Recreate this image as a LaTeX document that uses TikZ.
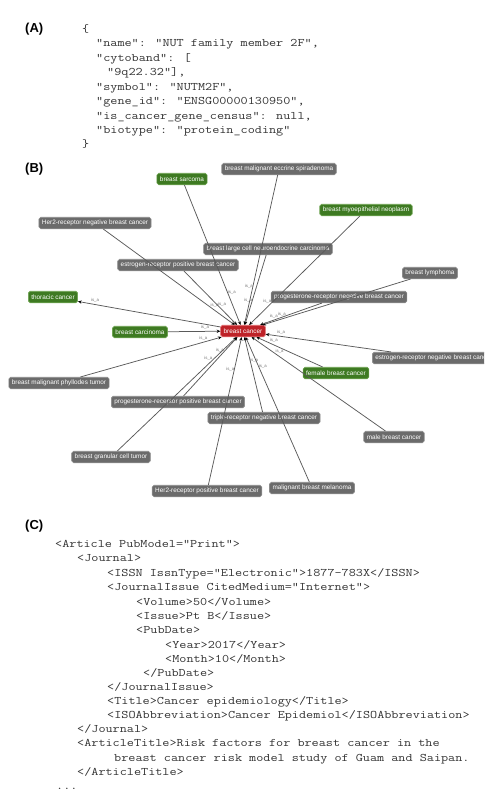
\documentclass[tikz,border=0pt]{standalone}
\usepackage{fontspec}
\newfontfamily\gsans{Liberation Sans}
\usetikzlibrary{arrows.meta,calc}
\definecolor{ngray}{HTML}{6B6B6B}
\definecolor{ngrayb}{HTML}{8C8C8C}
\definecolor{ngreen}{HTML}{3E7A22}
\definecolor{ngreenb}{HTML}{6FA552}
\definecolor{nred}{HTML}{BE2228}
\definecolor{nredb}{HTML}{E0666A}
\definecolor{codegray}{HTML}{333333}
\definecolor{edgegray}{HTML}{5A5A5A}
\newcommand\cl[1]{\scalebox{1.2}[1]{\fontsize{11.5}{13}\selectfont\ttfamily #1}}
\tikzset{
  code/.style={anchor=base west, inner sep=0pt, text=codegray},
  panel/.style={anchor=base west, inner sep=0pt, font=\gsans\fontsize{13}{15}\selectfont\bfseries},
  gnode/.style={rounded corners=1.8pt, minimum height=11.5pt, inner xsep=3pt, inner ysep=1pt,
    font=\gsans\fontsize{6.4}{7}\selectfont, text=white, line width=0.6pt},
  graynode/.style={gnode, fill=ngray, draw=ngrayb},
  greennode/.style={gnode, fill=ngreen, draw=ngreenb},
  rednode/.style={gnode, fill=nred, draw=nredb},
  edge/.style={draw=edgegray, line width=0.75pt, -{Stealth[length=3.6pt,width=3.2pt,black]}},
  elabel/.style={inner sep=0pt, font=\gsans\fontsize{4.3}{5}\selectfont, text=black!55}
}
\begin{document}
\begin{tikzpicture}[x=1pt,y=-1pt]
\useasboundingbox (0,0) rectangle (501,800);
% ---------- Panel A ----------
\node[panel] (lA) at (25,33) {(A)};
\node[code] (a1) at (82,32.5) {\cl{\{}};
\node[code] (a2) at (96,47) {\cl{"name": "NUT family member 2F",}};
\node[code] (a3) at (96,61.4) {\cl{"cytoband": [}};
\node[code] (a4) at (107,75.8) {\cl{"9q22.32"],}};
\node[code] (a5) at (96,90.2) {\cl{"symbol": "NUTM2F",}};
\node[code] (a6) at (96,104.6) {\cl{"gene\_id": "ENSG00000130950",}};
\node[code] (a7) at (96,119) {\cl{"is\_cancer\_gene\_census": null,}};
\node[code] (a8) at (96,133.4) {\cl{"biotype": "protein\_coding"}};
\node[code] (a9) at (82,147.5) {\cl{\}}};
% ---------- Panel B ----------
\node[panel] (lB) at (25,172) {(B)};
\node[rednode] (bc) at (243,331) {breast cancer};
\node[greennode] (sarc) at (182,179) {breast sarcoma};
\node[graynode] (eccr) at (279,169) {breast malignant eccrine spiradenoma};
\node[greennode] (myo) at (366,210) {breast myoepithelial neoplasm};
\node[graynode] (her2n) at (95,223) {Her2-receptor negative breast cancer};
\node[graynode] (lcnc) at (268,249) {breast large cell neuroendocrine carcinoma};
\node[graynode] (erp) at (178,265) {estrogen-receptor positive breast cancer};
\node[graynode] (lymph) at (430,273) {breast lymphoma};
\node[greennode] (thor) at (53,297) {thoracic cancer};
\node[graynode] (prn) at (339,297) {progesterone-receptor negative breast cancer};
\node[greennode] (carc) at (140,332) {breast carcinoma};
\begin{scope}
\clip (0,0) rectangle (484,800);
\node[graynode, anchor=west] (ern) at (372,358) {estrogen-receptor negative breast cancer};
\end{scope}
\node[greennode] (fem) at (336,373) {female breast cancer};
\node[graynode] (phyl) at (59,383) {breast malignant phyllodes tumor};
\node[graynode] (prp) at (178,402) {progesterone-receptor positive breast cancer};
\node[graynode] (trip) at (264,418) {triple-receptor negative breast cancer};
\node[graynode] (male) at (394,437) {male breast cancer};
\node[graynode] (gran) at (111,457) {breast granular cell tumor};
\node[graynode] (mel) at (312,488) {malignant breast melanoma};
\node[graynode] (her2p) at (207,491) {Her2-receptor positive breast cancer};
\foreach \n/\s/\d in {sarc/-90/40, eccr/90/45, myo/90/38, her2n/-90/38, lcnc/90/31, erp/-90/34,
                   lymph/90/42, prn/90/34, carc/-90/38, ern/90/38, fem/90/32, phyl/-90/40,
                   prp/-90/30, trip/90/31, male/90/42, gran/-90/44, mel/90/40, her2p/-90/40}{
  \draw[edge] (\n) -- (bc);
  \node[elabel] at ($(bc)!\d pt!(\n)!4pt!\s:(\n)$) {is\_a};
}
\draw[edge] (bc) -- (thor);
\node[elabel] at ($(thor)!42pt!(bc)!4pt!90:(bc)$) {is\_a};
% ---------- Panel C ----------
\node[panel] (lC) at (25,529) {(C)};
\node[code] (c1) at (55,547.5) {\cl{<Article PubModel="Print">}};
\node[code] (c2) at (77,561.9) {\cl{<Journal>}};
\node[code] (c3) at (107,576.3) {\cl{<ISSN IssnType="Electronic">1877-783X</ISSN>}};
\node[code] (c4) at (107,590.7) {\cl{<JournalIssue CitedMedium="Internet">}};
\node[code] (c5) at (136,605.1) {\cl{<Volume>50</Volume>}};
\node[code] (c6) at (136,619.5) {\cl{<Issue>Pt B</Issue>}};
\node[code] (c7) at (136,633.9) {\cl{<PubDate>}};
\node[code] (c8) at (165,648.3) {\cl{<Year>2017</Year>}};
\node[code] (c9) at (165,662.1) {\cl{<Month>10</Month>}};
\node[code] (c10) at (143,676) {\cl{</PubDate>}};
\node[code] (c11) at (107,690) {\cl{</JournalIssue>}};
\node[code] (c12) at (107,704.2) {\cl{<Title>Cancer epidemiology</Title>}};
\node[code] (c13) at (107,718.3) {\cl{<ISOAbbreviation>Cancer Epidemiol</ISOAbbreviation>}};
\node[code] (c14) at (77,732.6) {\cl{</Journal>}};
\node[code] (c15) at (77,746.8) {\cl{<ArticleTitle>Risk factors for breast cancer in the}};
\node[code] (c16) at (114,761) {\cl{breast cancer risk model study of Guam and Saipan.}};
\node[code] (c17) at (77,775.2) {\cl{</ArticleTitle>}};
\node[code] (c18) at (56,789) {\cl{...}};
\end{tikzpicture}
\end{document}
